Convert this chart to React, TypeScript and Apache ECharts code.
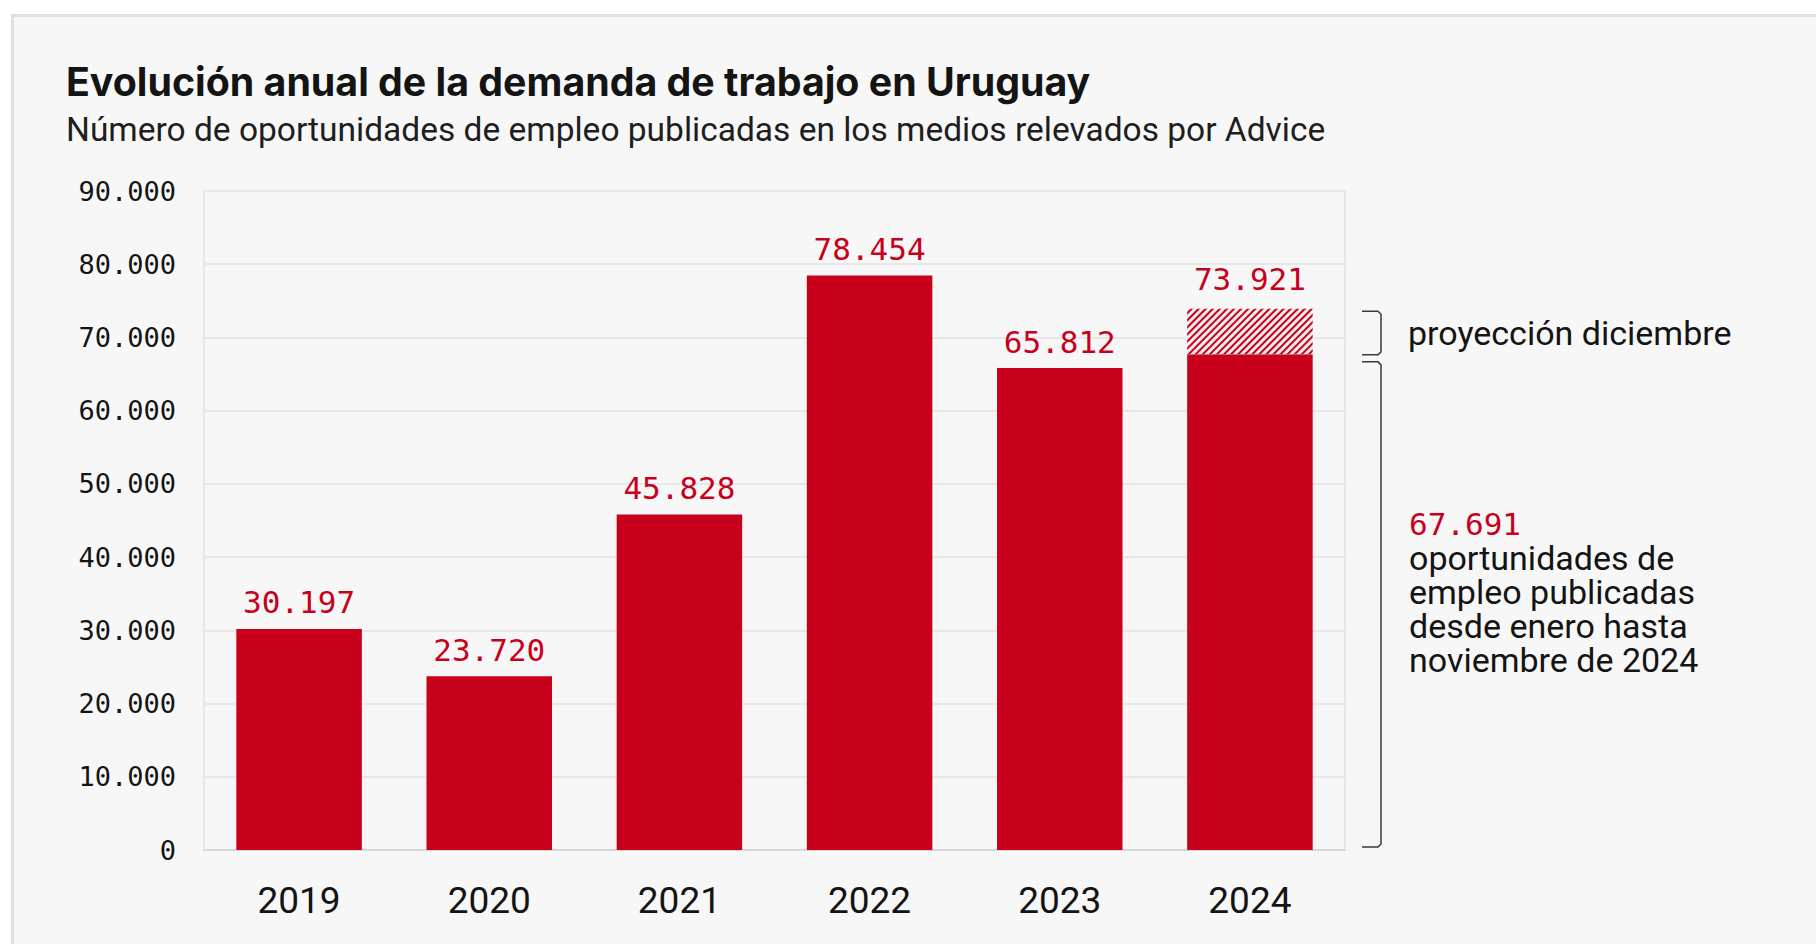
import React, { useEffect, useRef } from 'react';
import * as echarts from 'echarts';

const titleText = 'Evolución anual de la demanda de trabajo en Uruguay';
const subtitleText = 'Número de oportunidades de empleo publicadas en los medios relevados por Advice';
const years = ['2019', '2020', '2021', '2022', '2023', '2024'];
const published = [30197, 23720, 45828, 78454, 65812, 67691];
const projectedTotal2024 = 73921;
const yMin = 0;
const yMax = 90000;
const yInterval = 10000;
const projectionNote = 'proyección diciembre';
const publishedNoteLines = ['oportunidades de', 'empleo publicadas', 'desde enero hasta', 'noviembre de 2024'];

const RED = '#c9001b';
const TEXT = '#141414';
const MONO = '"DejaVu Sans Mono", monospace';
const SANS = 'Roboto, "Noto Sans", sans-serif';
const TITLE_FONT = 'Inter, Roboto, sans-serif';

const fmt = (v: number) => String(Math.round(v)).replace(/\B(?=(\d{3})+(?!\d))/g, '.');

export default function App() {
  const ref = useRef<HTMLDivElement>(null);
  useEffect(() => {
    if (!ref.current) return;
    const chart = echarts.init(ref.current, null, { renderer: 'svg' });
    const lastIdx = published.length - 1;
    const projectionData = published.map((_, i) => (i === lastIdx ? projectedTotal2024 - published[i] : null));

    chart.setOption({
      animation: false,
      backgroundColor: '#ffffff',
      title: [
        {
          text: titleText,
          left: 66,
          top: 62,
          padding: 0,
          textStyle: { fontFamily: TITLE_FONT, fontWeight: 700, fontSize: 39.3, lineHeight: 39.3, color: TEXT },
        },
        {
          text: subtitleText,
          left: 66,
          top: 113,
          padding: 0,
          textStyle: { fontFamily: SANS, fontWeight: 400, fontSize: 33.5, lineHeight: 33.5, color: '#1e1e1e' },
        },
      ],
      grid: {
        left: 204,
        top: 191,
        right: 471,
        bottom: 94,
        show: true,
        borderColor: '#e6e6e6',
        borderWidth: 2,
        backgroundColor: 'transparent',
      },
      xAxis: {
        type: 'category',
        data: years,
        axisLine: { show: true, lineStyle: { color: '#d8d8d8', width: 2 } },
        axisTick: { show: false },
        axisLabel: {
          fontFamily: SANS,
          fontSize: 37,
          lineHeight: 37,
          color: TEXT,
          margin: 32,
        },
      },
      yAxis: {
        type: 'value',
        min: yMin,
        max: yMax,
        interval: yInterval,
        axisLine: { show: false },
        axisTick: { show: false },
        splitLine: { show: true, lineStyle: { color: '#e8e8e8', width: 2 } },
        axisLabel: {
          fontFamily: MONO,
          fontSize: 27,
          color: TEXT,
          margin: 28,
          formatter: (v: number) => fmt(v),
        },
      },
      series: [
        {
          name: 'Publicadas',
          type: 'bar',
          stack: 'total',
          barWidth: '66%',
          data: published,
          itemStyle: { color: RED },
          label: {
            show: true,
            position: 'top',
            distance: 11,
            fontFamily: MONO,
            fontSize: 31,
            lineHeight: 31,
            color: RED,
            formatter: (p: any) => (p.dataIndex === lastIdx ? '' : fmt(p.value)),
          },
        },
        {
          name: 'Proyección diciembre',
          type: 'bar',
          stack: 'total',
          barWidth: '66%',
          data: projectionData,
          itemStyle: {
            color: '#ececec',
            decal: {
              symbol: 'rect',
              symbolSize: 1,
              dashArrayX: [1, 0],
              dashArrayY: [2, 3],
              rotation: -Math.PI / 4,
              color: RED,
            },
          },
          label: {
            show: true,
            position: 'top',
            distance: 14,
            fontFamily: MONO,
            fontSize: 31,
            lineHeight: 31,
            color: RED,
            formatter: () => fmt(projectedTotal2024),
          },
        },
      ],
    });

    const yTop = chart.convertToPixel({ yAxisIndex: 0 }, projectedTotal2024) as number;
    const yMid = chart.convertToPixel({ yAxisIndex: 0 }, published[lastIdx]) as number;
    const y0 = chart.convertToPixel({ yAxisIndex: 0 }, 0) as number;
    const bx0 = 1362;
    const bx1 = 1381;
    const bracket = (a: number, b: number) => ({
      type: 'polyline',
      silent: true,
      shape: {
        points: [
          [bx0, a],
          [bx1 - 3, a],
          [bx1, a + 3],
          [bx1, b - 3],
          [bx1 - 3, b],
          [bx0, b],
        ],
      },
      style: { stroke: '#3a3a3a', lineWidth: 1.5, fill: null },
    });

    chart.setOption({
      graphic: [
        {
          type: 'rect',
          z: -100,
          silent: true,
          shape: { x: 12.5, y: 15.5, width: 1900, height: 1000 },
          style: { fill: '#f7f7f7', stroke: '#e0e0e0', lineWidth: 3 },
        },
        bracket(yTop + 2.5, yMid + 0.5),
        bracket(yMid + 7.5, y0 - 3),
        {
          type: 'text',
          silent: true,
          x: 1408,
          y: (yTop + yMid) / 2 + 1,
          style: {
            text: projectionNote,
            font: `400 34px ${SANS}`,
            fill: TEXT,
            verticalAlign: 'middle',
          },
        },
        {
          type: 'text',
          silent: true,
          x: 1409,
          y: 523.5,
          style: {
            text: fmt(published[lastIdx]),
            font: `400 31px ${MONO}`,
            fill: RED,
            verticalAlign: 'middle',
          },
        },
        ...publishedNoteLines.map((line, i) => ({
          type: 'text',
          silent: true,
          x: 1409,
          y: 557.5 + i * 34.3,
          style: {
            text: line,
            font: `400 34px ${SANS}`,
            fill: TEXT,
            verticalAlign: 'middle',
          },
        })),
      ],
    });

    return () => chart.dispose();
  }, []);

  return <div ref={ref} style={{ position: 'absolute', left: 0, top: 0, width: 1816, height: 944 }} />;
}
